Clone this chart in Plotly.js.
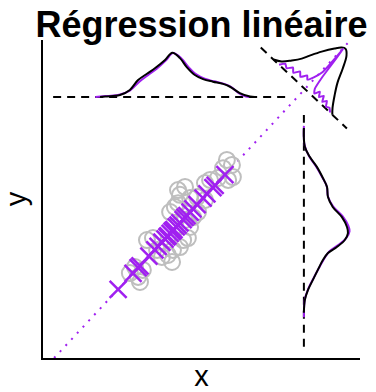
<!DOCTYPE html>
<html><head><meta charset="utf-8">
<script src="https://cdn.plot.ly/plotly-3.0.1.min.js"></script>
<style>html,body{margin:0;padding:0;background:#fff}#chart{width:376px;height:392px}</style>
</head><body><div id="chart"></div>
<script>
// observed points (grey circles)
const obsX = [2.74,3.00,3.06,2.90,3.15,3.28,3.47,3.60,3.75,3.94,4.07,4.10,4.32,4.42,4.57,4.01,4.16,4.26,4.48,4.64,4.73,4.89,4.86,4.64,4.26,4.48,4.32,5.11,5.11,5.27,5.52,5.80,5.68,5.96,5.99,5.84];
const obsY = [2.67,2.55,2.39,2.86,2.77,3.71,3.77,3.40,3.18,3.24,3.02,3.40,3.49,3.71,3.77,4.59,4.75,4.87,4.34,4.12,4.43,4.59,5.06,5.03,5.28,5.38,5.13,4.97,5.50,5.60,5.66,6.23,5.97,6.07,5.69,5.60];
// fitted points (purple crosses)
const fitX = [2.37,2.84,3.00,3.06,3.34,3.53,3.63,3.75,3.85,3.91,3.94,4.01,4.07,4.10,4.13,4.20,4.26,4.32,4.42,4.48,4.54,4.64,4.73,4.86,5.05,5.17,5.36,5.43,5.74];
const fitY = [2.16,2.66,2.84,2.90,3.20,3.40,3.51,3.64,3.74,3.81,3.84,3.92,3.98,4.01,4.04,4.12,4.18,4.25,4.35,4.42,4.48,4.59,4.69,4.82,5.03,5.16,5.36,5.43,5.77];
// regression line end points
const regX = [0.35, 9.62];
const regY = [0.00, 9.91];
// reference (dashed) lines
const hLineX = [0.32, 7.70], hLineY = [8.21, 8.21];
const vLineX = [8.23, 8.23], vLineY = [0.35, 7.64];
const cornerCenter = [8.25, 8.47];
const cornerBaseU = [-1.89, 1.83];
// top marginal density (x)
const topObsX = [1.80,1.96,2.21,2.43,2.74,3.00,3.28,3.53,3.85,4.08,4.32,4.54,4.79,5.05,5.36,5.68,5.90,6.21,6.53,6.75];
const topObsD = [0,0.01,0.03,0.06,0.22,0.53,0.73,0.90,1.16,1.39,1.22,0.93,0.69,0.56,0.48,0.41,0.32,0.12,0.01,0];
const topFitX = [1.65,1.90,2.15,2.40,2.74,3.04,3.33,3.58,3.88,4.10,4.36,4.60,4.85,5.10,5.40,5.72,5.94,6.20,6.40,6.50];
const topFitD = [0,0.02,0.04,0.07,0.20,0.48,0.70,0.88,1.15,1.38,1.22,0.93,0.70,0.57,0.49,0.41,0.31,0.10,0.01,0];
// right marginal density (y)
const rightObsY = [7.23,6.64,6.32,6.01,5.66,5.38,5.06,4.75,4.43,4.12,3.93,3.71,3.49,3.30,3.08,2.77,2.45,2.14,1.82,1.42];
const rightObsD = [0,0.03,0.19,0.41,0.60,0.73,0.76,0.91,1.20,1.36,1.39,1.29,1.04,0.76,0.60,0.44,0.28,0.13,0.03,0];
const rightFitY = [7.30,6.70,6.35,6.03,5.68,5.40,5.08,4.77,4.46,4.16,3.98,3.76,3.55,3.35,3.12,2.82,2.50,2.18,1.85,1.28];
const rightFitD = [0,0.02,0.16,0.38,0.58,0.72,0.76,0.92,1.22,1.40,1.44,1.33,1.08,0.80,0.64,0.47,0.30,0.14,0.03,0];
// corner density (residual direction)
const cornerObsU = [-1.34,-1.11,-0.90,-0.71,-0.59,-0.40,-0.17,-0.03,0.09,0.26,0.45,0.63,0.84,1.06,1.20];
const cornerObsD = [0,0.13,0.37,0.63,0.87,1.22,1.57,1.74,1.80,1.66,1.28,0.85,0.49,0.16,0];
const cornerFitU = [-1.10,-0.98,-0.85,-0.72,-0.60,-0.47,-0.35,-0.22,-0.13,-0.03,0.06,0.04,0.16,0.24,0.33,0.42,0.51,0.60,0.69,0.78,0.88,0.98,1.10];
const cornerFitD = [0,0.16,0.08,0.24,0.12,0.30,0.18,0.36,0.27,0.46,0.76,1.76,0.66,0.22,0.10,0.26,0.12,0.25,0.08,0.20,0.05,0.10,0];

const PURPLE = '#a020f0', GREY = '#bebebe', BLACK = '#000000';
const dashStyle = '8px,6px';
const FONT = 'Liberation Sans, Arial, sans-serif';

// direction of regression line and perpendicular
const dx = regX[1]-regX[0], dy = regY[1]-regY[0];
const L = Math.hypot(dx, dy);
const ev = [dx/L, dy/L];          // along line
const eu = [dy/L, -dx/L];         // perpendicular (towards lower right)
function rot(us, vs) {
  return {
    x: us.map((u,i) => cornerCenter[0] + u*eu[0] + vs[i]*ev[0]),
    y: us.map((u,i) => cornerCenter[1] + u*eu[1] + vs[i]*ev[1])
  };
}
const cFit = rot(cornerFitU, cornerFitD);
const cObs = rot(cornerObsU, cornerObsD);
const cBase = rot(cornerBaseU, [0,0]);

const traces = [
  {x: hLineX, y: hLineY, mode:'lines', line:{color:BLACK, width:2, dash:dashStyle}},
  {x: vLineX, y: vLineY, mode:'lines', line:{color:BLACK, width:2, dash:dashStyle}},
  {x: cBase.x, y: cBase.y, mode:'lines', line:{color:BLACK, width:2, dash:dashStyle}},
  {x: topFitX, y: topFitD.map(d => hLineY[0]+d), mode:'lines', line:{color:PURPLE, width:2, shape:'spline'}},
  {x: topObsX, y: topObsD.map(d => hLineY[0]+d), mode:'lines', line:{color:BLACK, width:2, shape:'spline'}},
  {x: rightFitD.map(d => vLineX[0]+d), y: rightFitY, mode:'lines', line:{color:PURPLE, width:2, shape:'spline'}},
  {x: rightObsD.map(d => vLineX[0]+d), y: rightObsY, mode:'lines', line:{color:BLACK, width:2, shape:'spline'}},
  {x: cObs.x, y: cObs.y, mode:'lines', line:{color:BLACK, width:2, shape:'spline'}},
  {x: cFit.x, y: cFit.y, mode:'lines', line:{color:PURPLE, width:2, shape:'spline', smoothing:0.5}},
  {x: regX, y: regY, mode:'lines', line:{color:PURPLE, width:2, dash:'2px,6.4px'}},
  {x: obsX, y: obsY, mode:'markers', marker:{symbol:'circle-open', size:16, color:GREY, line:{width:2, color:GREY}}},
  {x: fitX, y: fitY, mode:'markers', marker:{symbol:'x-thin-open', size:17, color:PURPLE, line:{width:2.5, color:PURPLE}}}
];

const layout = {
  width: 376, height: 392,
  margin: {l:43, r:16, t:40, b:34},
  paper_bgcolor:'#ffffff', plot_bgcolor:'#ffffff',
  showlegend: false,
  title: {text:'<b>Régression linéaire</b>', font:{family:FONT, size:36, color:'#000'},
          x:0.5, xref:'paper', xanchor:'center', y:1-24.5/392, yref:'container', yanchor:'middle'},
  xaxis: {range:[0,10], showgrid:false, zeroline:false, showticklabels:false, ticks:'',
          showline:true, linecolor:'#000', linewidth:2,
          title:{text:'x', font:{family:FONT, size:29, color:'#000'}, standoff:7}},
  yaxis: {range:[0,10], showgrid:false, zeroline:false, showticklabels:false, ticks:'',
          showline:true, linecolor:'#000', linewidth:2,
          title:{text:'y', font:{family:FONT, size:29, color:'#000'}, standoff:6}}
};
Plotly.newPlot('chart', traces, layout, {staticPlot:true, displayModeBar:false});
</script>
</body></html>
